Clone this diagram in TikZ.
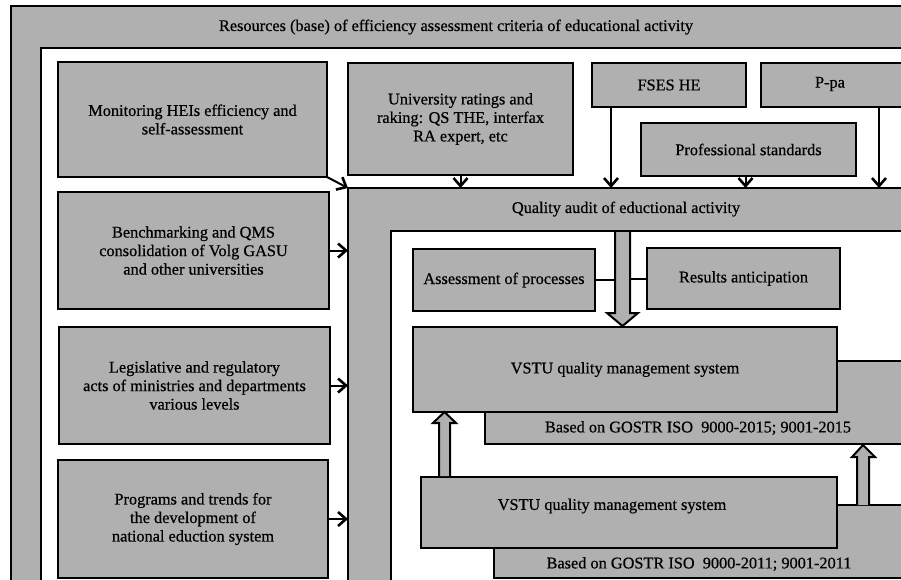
\documentclass[tikz,border=0pt]{standalone}
\usepackage{fontspec}
\setmainfont{Liberation Serif}[FakeBold=0.6]
\usetikzlibrary{arrows.meta,calc}
\definecolor{boxgray}{RGB}{176,176,176}
\begin{document}
\begin{tikzpicture}[x=1pt,y=-1pt,
  every node/.style={font=\fontsize{16.3}{18.5}\selectfont, inner sep=0pt, outer sep=0pt},
  box/.style={draw, line width=2pt, fill=boxgray, anchor=north west, align=center},
  whitebox/.style={draw, line width=2pt, fill=white, anchor=north west},
  txt/.style={align=center},
  arr/.style={line width=2pt, -{Straight Barb[length=8pt,width=14pt,line width=2.6pt]}},
  link/.style={line width=2pt},
  hollow/.style={draw, line width=2pt, fill=boxgray, line join=miter},
]
\useasboundingbox (0,0) rectangle (901,579);
\clip (0,0) rectangle (901,579);

% outer frame
\node[box, minimum width=930pt, minimum height=620pt] (res) at (11,6) {};
\node[whitebox, minimum width=925pt, minimum height=600pt] (resin) at (41,48) {};
\node[txt] (restitle) at (456,27) {Resources (base) of efficiency assessment criteria of educational activity};

% quality audit frame
\node[box, minimum width=600pt, minimum height=450pt] (qa) at (348,188) {};
\node[whitebox, minimum width=600pt, minimum height=420pt] (qain) at (391,231) {};
\node[txt] (qatitle) at (626,209) {Quality audit of eductional activity};

% left boxes
\node[box, minimum width=269pt, minimum height=115pt] (mon) at (58,62) {Monitoring HEIs efficiency and\\self-assessment};
\node[box, minimum width=271pt, minimum height=117pt] (bench) at (58,192) {Benchmarking and QMS\\consolidation of Volg GASU\\and other universities};
\node[box, minimum width=271pt, minimum height=117pt] (legis) at (59,327) {Legislative and regulatory\\acts of ministries and departments\\various levels};
\node[box, minimum width=270pt, minimum height=118pt] (prog) at (58,460) {Programs and trends for\\the development of\\national eduction system};

% top boxes
\node[box, minimum width=225pt, minimum height=112pt] (univ) at (348,63) {University ratings and\\raking: QS THE, interfax\\RA expert, etc};
\node[box, minimum width=154pt, minimum height=44pt] (fses) at (592,63) {FSES HE};
\node[box, minimum width=200pt, minimum height=44pt] (ppa) at (761,63) {};
\node[txt] (ppatext) at (830,84) {P-pa};
\node[box, minimum width=215pt, minimum height=53pt] (prof) at (641,123) {Professional standards};

% inner boxes
\node[box, minimum width=182pt, minimum height=62pt] (assess) at (413,249) {Assessment of processes};
\node[box, minimum width=193pt, minimum height=61pt] (results) at (647,248) {Results anticipation};

\node[box, minimum width=500pt, minimum height=83pt] (gost15) at (485,361) {};
\node[txt] (gost15text) at (698,428) {Based on GOSTR ISO\ \ 9000-2015; 9001-2015};
\node[box, minimum width=424pt, minimum height=85pt] (vstu1) at (413,327) {VSTU quality management system};

\node[box, minimum width=500pt, minimum height=73pt] (gost11) at (494,505) {};
\node[txt] (gost11text) at (699,564) {Based on GOSTR ISO\ \ 9000-2011; 9001-2011};
\node[box, minimum width=416pt, minimum height=71pt] (vstu2) at (421,477) {};
\node[txt] (vstu2text) at (612,506) {VSTU quality management system};

% big hollow arrow from quality audit to VSTU QMS
\draw[hollow] (615,232) -- (615,313) -- (607,313) -- (622.5,326) -- (638,313) -- (630,313) -- (630,232);
\coordinate (shaftL) at (615,279);
\coordinate (shaftR) at (630,279);
\draw[link] (assess.east) -- (assess.east -| shaftL);
\draw[link] (results.west) -- (results.west -| shaftR);

% small hollow up arrows
\draw[hollow] (439,476) -- (439,423) -- (433,423) -- (444.5,412) -- (456,423) -- (450,423) -- (450,476);
\draw[hollow] (857,505) -- (857,457) -- (852,457) -- (863,445) -- (875,457) -- (869,457) -- (869,505);

% input arrows
\draw[arr] (mon.south east) -- (qa.north west);
\draw[arr] (bench.east) -- (bench.east -| qa.west);
\draw[arr] (legis.east) -- (legis.east -| qa.west);
\draw[arr] (prog.east) -- (prog.east -| qa.west);
\draw[arr] (univ.south) -- (univ.south |- qa.north);
\draw[arr] ([xshift=19pt]fses.south west) -- ([xshift=19pt]fses.south west |- qa.north);
\draw[arr] ([xshift=-3pt]prof.south) -- ([xshift=-3pt]prof.south |- qa.north);
\draw[arr] ([xshift=118pt]ppa.south west) -- ([xshift=118pt]ppa.south west |- qa.north);
\end{tikzpicture}
\end{document}
